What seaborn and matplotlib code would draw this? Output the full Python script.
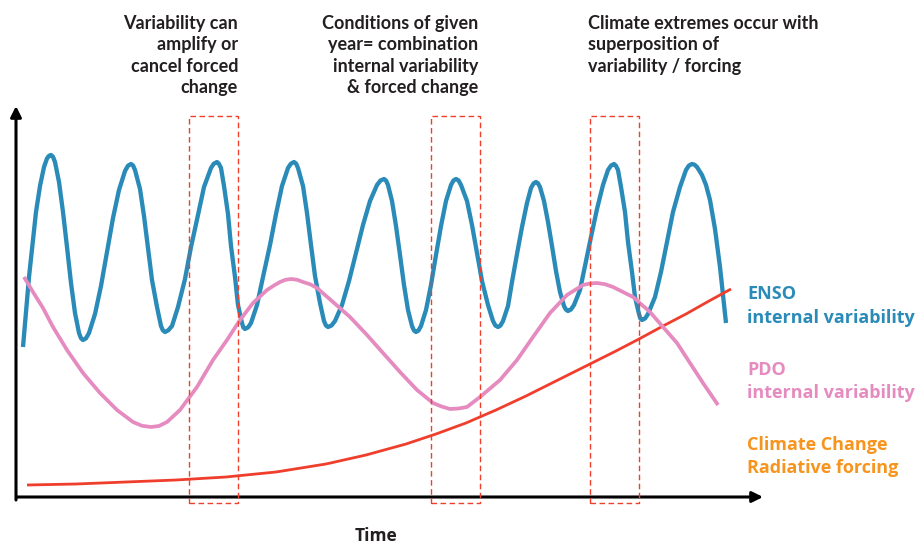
import matplotlib
matplotlib.use("Agg")
import matplotlib.pyplot as plt
from matplotlib import font_manager
from matplotlib.patches import Rectangle
import seaborn as sns

# ENSO: fast internal oscillation (time, anomaly)
enso_t = [7, 10, 13, 17, 20, 24, 28, 31, 33, 35,
          37, 39, 43, 47, 51, 55, 59, 63, 65, 67,
          70, 73, 79, 85, 91, 97, 103, 109, 112, 115,
          117.1, 119, 124, 128, 132, 136, 141, 145, 146.9, 149,
          152.3, 156, 162, 169, 175, 182, 188, 195, 197.8, 201,
          202.8, 205, 208, 212, 215, 219, 222, 226, 227.3, 229,
          232.1, 235, 241, 247, 254, 260, 266, 272, 274.9, 278,
          280.1, 282, 287, 291, 295, 299, 304, 308, 309.9, 312,
          315.5, 319, 326, 333, 340, 347, 354, 361, 364.5, 368,
          370, 372, 376, 380, 384, 388, 392, 396, 398, 400,
          402.5, 405, 410, 415, 420, 425, 430, 435, 437.5, 440,
          442.6, 445, 451, 456, 461, 466, 472, 477, 479.4, 482,
          484.4, 487, 492, 496, 501, 506, 511, 515, 517.6, 520,
          522, 524, 528, 532, 536, 540, 544, 548, 550, 552,
          554.9, 558, 564, 569, 575, 581, 587, 592, 595.1, 598,
          599.8, 602, 605, 609, 612, 616, 619, 623, 624.3, 626,
          629.1, 632, 639, 645, 651, 657, 664, 670, 672.9, 676,
          678.5, 681, 686, 690, 694, 699, 704, 710]
enso_v = [150, 185, 220, 257, 285, 311, 330, 338.5, 341.2, 342,
          340.2, 335, 315, 285, 250, 214, 184, 164, 158.8, 157,
          158.7, 164, 183, 211, 245, 279, 307, 326, 331.3, 333,
          331.4, 327, 308, 281, 249, 217, 190, 171, 166.6, 165,
          166.7, 171, 190, 218, 250, 282, 310, 329, 333.3, 335,
          333.4, 329, 311, 283, 251, 220, 192, 174, 169.6, 168,
          169.7, 174, 192, 220, 252, 283, 311, 329, 333.3, 335,
          333.4, 329, 311, 284, 252, 221, 194, 176, 171.6, 170,
          171.5, 176, 192, 216, 244, 272, 296, 312, 316.5, 318,
          316.5, 312, 296, 271, 242, 212, 187, 171, 166.5, 165,
          166.5, 171, 187, 212, 242, 271, 296, 312, 316.5, 318,
          316.5, 312, 296, 272, 244, 216, 192, 176, 171.5, 170,
          171.4, 176, 191, 215, 243, 270, 294, 309, 313.6, 315,
          313.7, 310, 296, 275, 251, 226, 205, 191, 187.3, 186,
          187.5, 192, 207, 231, 260, 288, 312, 327, 331.5, 333,
          331.4, 327, 310, 285, 255, 225, 200, 183, 178.6, 177,
          178.6, 183, 200, 225, 255, 285, 310, 327, 331.4, 333,
          332.3, 330, 322, 312, 297, 268, 230, 174]

# PDO: slow internal oscillation
pdo_t = [8, 17, 27, 37, 51, 67, 84, 101, 117, 126, 135, 143, 151, 164,
         181, 197, 211, 224, 237, 251, 258, 264, 269.5, 275, 281, 287, 294,
         301, 317, 334, 351, 367, 384, 401, 417, 425.5, 434, 442.5, 451,
         464, 484, 501, 517, 534, 551, 567, 574, 581, 589, 597, 617, 634,
         647, 661, 674, 687, 702]
pdo_v = [220, 205, 189, 170, 147, 124, 104, 87, 75, 71.2, 70, 71, 75, 87,
         110, 137, 157, 177, 194, 207, 211.5, 215, 217.2, 218, 217.3, 215,
         212.8, 209, 195, 180, 162, 144, 125, 107, 94, 90.5, 88, 88.5, 90,
         100, 117, 137, 160, 184, 202, 212, 213.5, 214, 212.8, 210, 200,
         185, 170, 154, 134, 114, 92]

# Climate change: forced radiative trend
cc_t = [11, 60, 110, 160, 210, 260, 310, 350, 390, 420, 450, 480, 510,
        544, 574, 600, 623, 647, 670, 693, 715]
cc_v = [12, 13, 15, 17, 20, 25, 33, 42, 53, 63, 74, 87, 101,
        118, 133, 146, 158, 171, 183, 196, 208]

# Highlighted time windows (start, end)
window_t = [(173, 222), (415, 464), (574, 623)]

header_texts = [
    ["Variability can", "amplify or", "cancel forced", "change"],
    ["Conditions of given", "year= combination", "internal variability",
     "& forced change"],
    ["Climate extremes occur with", "superposition of",
     "variability / forcing"],
]
series_labels = [["ENSO", "internal variability"],
                 ["PDO", "internal variability"],
                 ["Climate Change", "Radiative forcing"]]
x_label = "Time"

BLUE = "#2a8bb8"
PINK = "#e58bbf"
RED = "#ef3e2c"
ORANGE = "#f7941d"
DARK = "#231f20"

sns.set_style("white")

available = {f.name for f in font_manager.fontManager.ttflist}
head_font = "Lato" if "Lato" in available else "DejaVu Sans"
label_font = "Open Sans" if "Open Sans" in available else "DejaVu Sans"
plt.rcParams["font.family"] = [label_font, "DejaVu Sans"]

W, H = 921, 545
fig = plt.figure(figsize=(W / 100, H / 100), dpi=100)
fig.patch.set_facecolor("white")
ax = fig.add_axes([16 / W, 48 / H, 747 / W, 392 / H])
ax.set_xlim(0, 747)
ax.set_ylim(0, 392)
ax.axis("off")

line_kw = dict(ax=ax, sort=False, estimator=None, solid_capstyle="butt",
               solid_joinstyle="round")
sns.lineplot(x=enso_t, y=enso_v, color=BLUE, lw=3.1, zorder=2, **line_kw)
sns.lineplot(x=cc_t, y=cc_v, color=RED, lw=2.0, zorder=3, **line_kw)
sns.lineplot(x=pdo_t, y=pdo_v, color=PINK, lw=2.7, zorder=4, **line_kw)

for t0, t1 in window_t:
    ax.add_patch(Rectangle((t0, -6), t1 - t0, 387, fill=False, edgecolor=RED,
                           lw=1.0, ls=(0, (4, 2.5)), clip_on=False, zorder=5))

# axis arrows
arrow = dict(arrowstyle="-|>", lw=2.2, color="black", mutation_scale=16,
             shrinkA=0, shrinkB=0)
ax.annotate("", xy=(0, 391), xytext=(0, -3), arrowprops=arrow,
            annotation_clip=False)
ax.annotate("", xy=(747, 0), xytext=(1, 0), arrowprops=arrow,
            annotation_clip=False)


def fig_text(x, y, s, **kw):
    fig.text(x / W, 1 - y / H, s, va="baseline", **kw)


baselines = [29, 50, 72, 93]
anchors = [(238, "right"), (478, "right"), (588, "left")]
for lines, (xa, ha) in zip(header_texts, anchors):
    for line, yb in zip(lines, baselines):
        fig_text(xa, yb, line, ha=ha, fontsize=13, fontweight="bold",
                 family=[head_font, "DejaVu Sans"], color=DARK)

label_base = [(299, 323), (375, 398), (450, 473)]
for lines, (y1, y2), c in zip(series_labels, label_base, [BLUE, PINK, ORANGE]):
    fig_text(747, y1, lines[0], ha="left", fontsize=13, fontweight="bold", color=c)
    fig_text(747, y2, lines[1], ha="left", fontsize=13, fontweight="bold", color=c)

fig_text(376, 541, x_label, ha="center", fontsize=12.5, fontweight="bold", color=DARK)

fig.savefig("out.png", dpi=100, facecolor="white")
